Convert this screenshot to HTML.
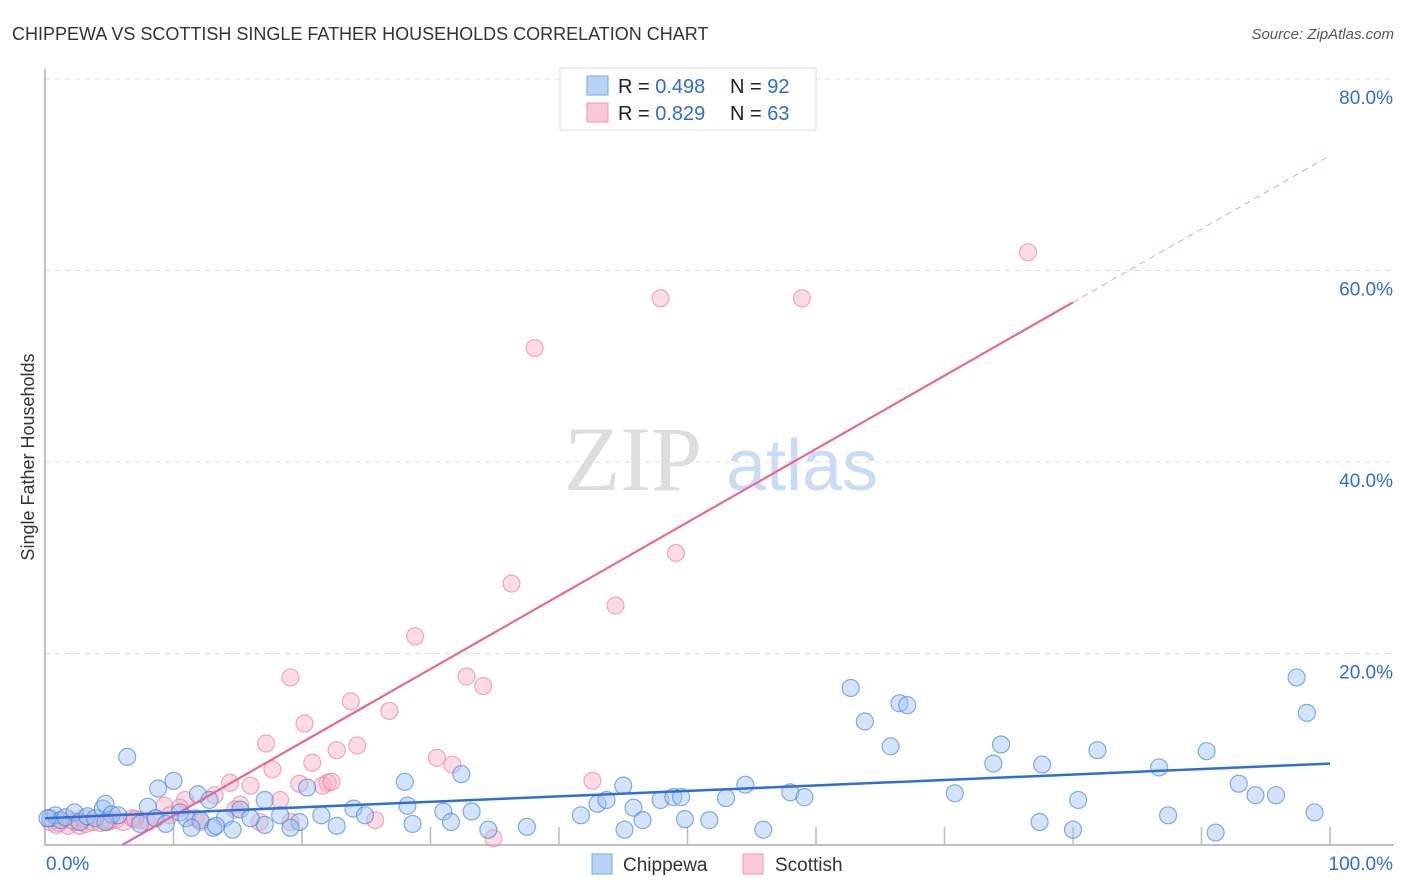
<!DOCTYPE html>
<html><head><meta charset="utf-8">
<style>
body{margin:0;background:#fff;font-family:"Liberation Sans",sans-serif;}
#wrap{position:relative;width:1406px;height:892px;overflow:hidden;}
</style></head>
<body>
<div id="wrap">
<svg id="svg" width="1406" height="892" xmlns="http://www.w3.org/2000/svg">
<text x="12" y="40" font-size="18" fill="#333">CHIPPEWA VS SCOTTISH SINGLE FATHER HOUSEHOLDS CORRELATION CHART</text>
<text x="1394" y="39" font-size="15" fill="#555" font-style="italic" text-anchor="end">Source: ZipAtlas.com</text>
<text x="34" y="457" font-size="18" fill="#333" text-anchor="middle" transform="rotate(-90 34 457)">Single Father Households</text>
<g>
<text x="633" y="490" font-size="92" fill="#ddd" font-family="Liberation Serif,serif" text-anchor="middle">ZIP</text>
<text x="802" y="490" font-size="72" fill="#c9dcf2" text-anchor="middle">atlas</text>
</g>
<g id="grid"></g>
<g id="axes"></g>
<g id="pts"></g>
<g id="lines"></g>
<g>
<rect x="560" y="68" width="256" height="62" fill="#fff" stroke="#ddd"/>
<rect x="587" y="76" width="21" height="19" fill="#b8d4f5" stroke="#7aa8e0"/>
<rect x="587" y="103" width="21" height="19" fill="#fbc8d6" stroke="#ee9ab2"/>
<text x="618" y="93" font-size="20" fill="#222">R = <tspan fill="#2f6bd6">0.498</tspan></text>
<text x="730" y="93" font-size="20" fill="#222">N = <tspan fill="#2f6bd6">92</tspan></text>
<text x="618" y="120" font-size="20" fill="#222">R = <tspan fill="#2f6bd6">0.829</tspan></text>
<text x="730" y="120" font-size="20" fill="#222">N = <tspan fill="#2f6bd6">63</tspan></text>
</g>
<g>
<rect x="592" y="854" width="20" height="20" fill="#b8d4f5" stroke="#7aa8e0"/>
<text x="623" y="871" font-size="19" fill="#333">Chippewa</text>
<rect x="743" y="854" width="20" height="20" fill="#fbc8d6" stroke="#ee9ab2"/>
<text x="775" y="871" font-size="19" fill="#333">Scottish</text>
</g>
</svg>
</div>
<script>
const yTicks=[20,40,60,80];
const yTickLabels=["20.0%","40.0%","60.0%","80.0%"];
const xTickLabels=["0.0%","100.0%"];
const chipX=[6.4,8.8,10,11.9,12.8,15.2,14,17.1,16,18.3,19.8,20.4,21.5,22.7,24,24.9,28,28.2,28.6,31,31.6,32.4,33.2,34.5,37.5,41.7,43,43.7,45,45.1,45.8,46.5,47.9,48.9,49.5,49.8,51.7,53,54.5,55.9,58,59.1,62.7,63.8,65.8,66.5,67.1,70.8,73.8,74.4,77.4,77.6,80,80.4,81.9,86.7,87.4,90.4,91.1,92.9,94.2,95.8,97.4,98.2,98.8,0.4,0.8,1.2,1.6,2.3,2.7,3.3,3.9,4.5,4.7,5.2,5.7,7.4,8,8.6,9.4,10.5,11,12.1,13.1,13.3,14.6,11.4,17.1,19.1,0.2,4.7];
const chipY=[9.2,5.9,6.7,5.3,4.7,3.7,2.8,2.1,2.8,3.1,2.4,6,3.1,2,3.8,3.1,6.6,4.1,2.2,3.5,2.4,7.4,3.5,1.6,1.9,3.1,4.3,4.7,6.2,1.6,3.9,2.6,4.7,5,5,2.7,2.6,4.9,6.3,1.6,5.5,5,16.4,12.9,10.3,14.8,14.6,5.4,8.5,10.5,2.4,8.4,1.6,4.7,9.9,8.1,3.1,9.8,1.3,6.4,5.2,5.2,17.5,13.8,3.4,2.8,3.1,2.6,2.9,3.4,2.4,3,2.8,3.8,4.3,3.2,3.1,2.2,4.0,2.8,2.2,3.4,2.8,2.6,1.8,2,1.6,1.8,4.7,1.8,2.8,2.4];
const scoX=[76.5,47.9,58.9,38.1,49.1,36.3,44.4,28.8,19.1,32.8,34.1,23.8,26.8,20.2,17.2,24.3,22.7,20.8,30.5,31.7,17.7,42.6,19.8,22,21.6,22.3,14.4,16,13.2,15.2,18.3,10.9,9.3,11.7,14.8,25.7,34.9,16.7,19.1,12.1,0.4,0.9,1.3,1.8,2.3,2.7,3.2,3.7,4.3,4.9,5.5,6.1,6.8,7.4,8,8.6,9.7,10.5,1.1,2.0,3.0,5.0,7.0];
const scoY=[61.9,57.1,57.1,51.9,30.5,27.3,25,21.8,17.5,17.6,16.6,15,14,12.7,10.6,10.4,9.9,8.6,9.1,8.4,7.9,6.7,6.4,6.5,6.2,6.6,6.5,6.2,5.2,4.2,4.7,4.7,4.1,2.8,3.7,2.6,0.7,2.4,2.4,2.4,2.4,2.1,2.6,2,2.4,2,2.2,2.4,2.3,2.4,2.6,2.4,2.8,2.6,2.4,2.8,3.1,3.9,2.3,2.6,2.8,2.6,2.7];
const chipLine=[2.8,8.5];
const scoLine=[-4.6,72];
const X0=45,X1=1330,Y0=845,YP=79;
const sx=v=>X0+(X1-X0)*v/100;
const sy=v=>Y0-(Y0-YP)*v/80;
const NS="http://www.w3.org/2000/svg";
function mk(parent,tag,attrs){const e=document.createElementNS(NS,tag);for(const k in attrs)e.setAttribute(k,attrs[k]);document.getElementById(parent).appendChild(e);return e;}
yTicks.forEach((t,i)=>{
  const g=mk('grid','line',{x1:X0,x2:1394,y1:sy(t),y2:sy(t),stroke:'#ddd','stroke-dasharray':'5,5'});
  
  
  const l=mk('grid','text',{x:1393,y:sy(t)+25,'font-size':19,fill:'#2f6bd6','text-anchor':'end'});
  l.textContent=yTickLabels[i];
  
  
});
const ax=mk('axes','path',{d:`M${X0},${YP-10}V${Y0}H${X1+64}`,stroke:'#aaa',fill:'none','stroke-width':1.5});


for(let k=1;k<=10;k++){
  const x=sx(k*10);
  const t=mk('axes','line',{x1:x,x2:x,y1:Y0,y2:Y0-18,stroke:'#bbb','stroke-width':1.5});
  
  
}
[[0,'start',46],[100,'end',1393]].forEach((a,i)=>{
  const l=mk('axes','text',{x:a[2],y:870,'font-size':19,fill:'#2f6bd6','text-anchor':a[1]});
  l.textContent=xTickLabels[i];
  
  
});
scoX.forEach((v,i)=>{
  const c=mk('pts','circle',{cx:sx(v),cy:sy(scoY[i]),r:8.5,fill:'rgba(248,175,198,0.45)',stroke:'rgba(230,120,155,0.6)','stroke-width':1.2});
  
  
});
chipX.forEach((v,i)=>{
  const c=mk('pts','circle',{cx:sx(v),cy:sy(chipY[i]),r:8.5,fill:'rgba(160,196,240,0.45)',stroke:'rgba(70,130,215,0.65)','stroke-width':1.2});
  
  
});
const sl=v=>scoLine[0]+(scoLine[1]-scoLine[0])*v/100;
const xz=-scoLine[0]/(scoLine[1]-scoLine[0])*100;
const xe=80;
const p1=mk('lines','line',{x1:sx(xz),y1:sy(0),x2:sx(xe),y2:sy(sl(xe)),stroke:'#e8679a','stroke-width':2.2});


const p2=mk('lines','line',{x1:sx(xe),y1:sy(sl(xe)),x2:sx(100),y2:sy(sl(100)),stroke:'#e8a0b8','stroke-width':1,'stroke-dasharray':'6,5'});


const b=mk('lines','line',{x1:sx(0),y1:sy(chipLine[0]),x2:sx(100),y2:sy(chipLine[1]),stroke:'#2e6fd6','stroke-width':2.5});


</script>
</body></html>
